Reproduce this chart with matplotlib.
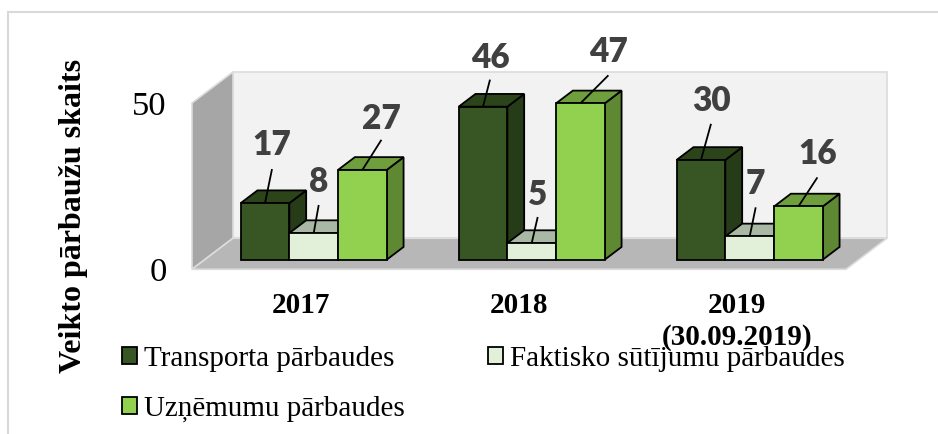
import matplotlib
matplotlib.use("Agg")
import matplotlib.pyplot as plt
from matplotlib.patches import Polygon, Patch, Rectangle

categories = ["2017", "2018", "2019\n(30.09.2019)"]
series_names = ["Transporta pārbaudes", "Faktisko sūtījumu pārbaudes", "Uzņēmumu pārbaudes"]
transporta = [17, 46, 30]
faktisko = [8, 5, 7]
uznemumu = [27, 47, 16]
y_ticks = [0, 50]

# front, top, side
COLORS = [("#375623", "#2b4419", "#263c18"),
          ("#e2efd9", "#a9b8a4", "#a9b8a4"),
          ("#92d050", "#6f9e3d", "#5f8832")]

W, H = 938, 434
# plot box in pixels, front plane of the 3d box
LEFT, RIGHT, BOTTOM, TOP = 192, 846, 269.3, 103
DEPTH_X = 41 / 218      # depth in category units
DEPTH_Y = 31 / 3.32     # depth in value units
BAR_W = 48.7 / 218
D0, D1 = 0.31, 0.72     # bars sit between these depths

# label offset from bar top (px) - leader end, text centre
LABEL_POS = [
    [(7, 34, 58), (5, 28, 51), (19, 30, 51)],
    [(7, 27, 49), (6, 26, 48), (28, 28, 51)],
    [(10, 36, 59), (6, 29, 52), (19, 29, 52)],
]

fig = plt.figure(figsize=(W / 100, H / 100), dpi=100)
fig.patches.append(Rectangle((8 / W, -0.05), 1.0, 1.05 - 12 / H, transform=fig.transFigure,
                             fc="white", ec="#d9d9d9", lw=1.5, zorder=-1))
ax = fig.add_axes([LEFT / W, 1 - BOTTOM / H, (RIGHT - LEFT) / W, (BOTTOM - TOP) / H])
ax.set_xlim(-0.5, 2.5)
ax.set_ylim(0, 50)
ax.patch.set_visible(False)
for s in ax.spines.values():
    s.set_visible(False)


def pr(x, y, d):
    return (x + d * DEPTH_X, y + d * DEPTH_Y)


def poly(pts, fc, ec, lw, z):
    ax.add_patch(Polygon(pts, closed=True, fc=fc, ec=ec, lw=lw, zorder=z, clip_on=False, joinstyle="miter"))


# walls and floor
x0, x1 = -0.5, 2.5
poly([pr(x0, 0, 1), pr(x1, 0, 1), pr(x1, 50, 1), pr(x0, 50, 1)], "#f2f2f2", "#dcdcdc", 1.2, 1)
poly([pr(x0, 0, 0), pr(x0, 0, 1), pr(x0, 50, 1), pr(x0, 50, 0)], "#a6a6a6", "#dcdcdc", 1.2, 1)
poly([pr(x0, 0, 0), pr(x1, 0, 0), pr(x1, 0, 1), pr(x0, 0, 1)], "#b7b7b7", "#dcdcdc", 1.2, 1)

# bars, painted left to right
z = 2
for c in range(len(categories)):
    for s, vals in enumerate([transporta, faktisko, uznemumu]):
        v = vals[c]
        l = c - 1.5 * BAR_W + s * BAR_W
        r = l + BAR_W
        front, top, side = COLORS[s]
        poly([pr(r, 0, D0), pr(r, 0, D1), pr(r, v, D1), pr(r, v, D0)], side, "black", 1.3, z)
        poly([pr(l, v, D0), pr(r, v, D0), pr(r, v, D1), pr(l, v, D1)], top, "black", 1.3, z)
        poly([pr(l, 0, D0), pr(r, 0, D0), pr(r, v, D0), pr(l, v, D0)], front, "black", 1.3, z)
        z += 1
        dx, line_h, text_h = LABEL_POS[c][s]
        anchor = pr((l + r) / 2, v, D0)
        ax.plot([anchor[0], anchor[0] + dx / 218], [anchor[1], anchor[1] + line_h / 3.32],
                color="black", lw=1.3, zorder=30, clip_on=False, solid_capstyle="butt")
        ax.text(anchor[0] + dx / 218, anchor[1] + text_h / 3.32, str(v), ha="center", va="center",
                fontsize=24, fontweight="heavy", family="Lato", color="#404040", zorder=31, clip_on=False)

ax.set_xticks(range(len(categories)))
ax.set_xticklabels(categories, family="Liberation Serif", fontweight="bold", fontsize=21, linespacing=1.25)
ax.set_yticks(y_ticks)
ax.set_yticklabels([str(t) for t in y_ticks], family="Liberation Serif", fontsize=24.8)
ax.tick_params(axis="x", length=0, pad=16)
ax.tick_params(axis="y", length=0, pad=18)
ax.set_ylabel("Veikto pārbaužu skaits", family="Liberation Serif", fontweight="bold", fontsize=23)
ax.yaxis.set_label_coords((88 - LEFT) / (RIGHT - LEFT), (BOTTOM - 216) / (BOTTOM - TOP))

handles = [Patch(fc=COLORS[i][0], ec="black", lw=1.3) for i in [0, 2, 1]]
labels = [series_names[i] for i in [0, 2, 1]]
leg = fig.legend(handles, labels, ncol=2, loc="upper left", bbox_to_anchor=(122 / W, 1 - 346 / H),
                 frameon=False, prop={"family": "Liberation Serif", "size": 21},
                 handlelength=0.52, handleheight=0.52, handletextpad=0.24, columnspacing=2.85,
                 labelspacing=0.82, borderpad=0, borderaxespad=0)
fig.savefig("out.png", dpi=100)
